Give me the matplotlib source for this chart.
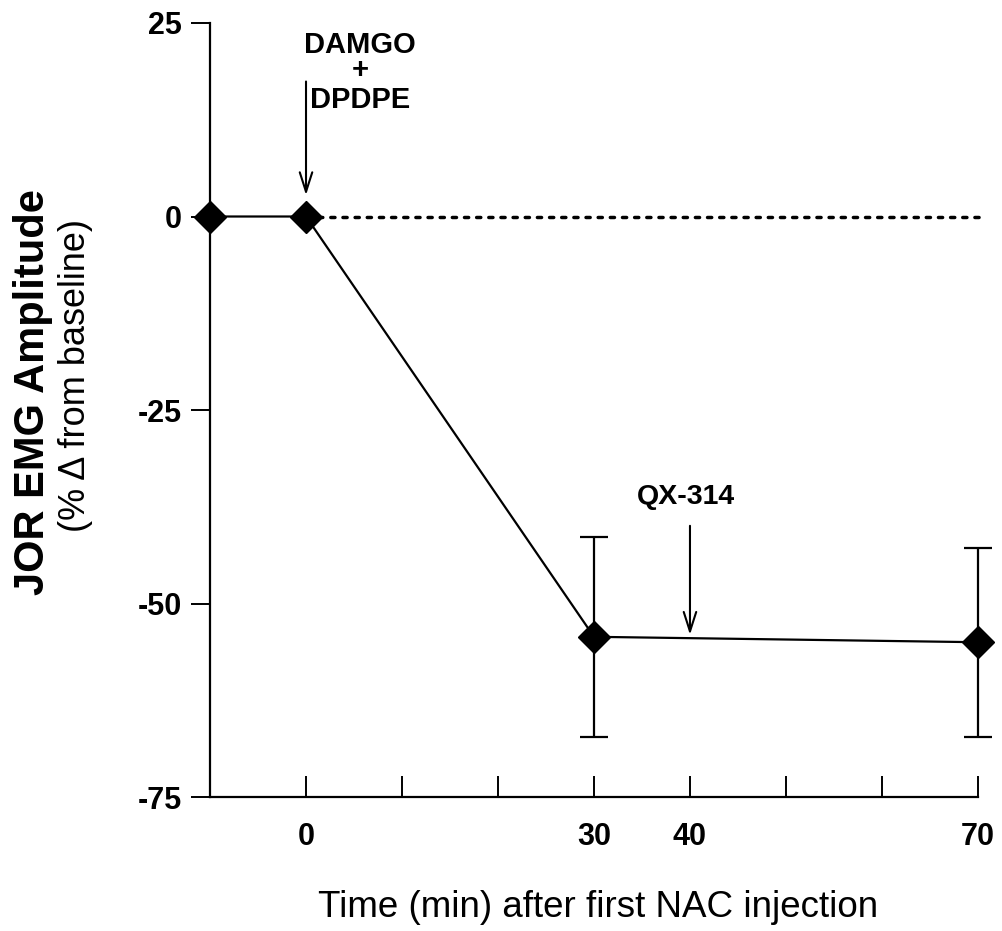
import numpy as np
import matplotlib
matplotlib.use("Agg")
import matplotlib.pyplot as plt

plt.rcParams['font.family'] = ['Liberation Sans', 'DejaVu Sans']

# time (min), mean % change, error
time_min = np.array([-10, 0, 30, 70])
emg_change = np.array([0.0, 0.0, -54.3, -55.0])
emg_err = np.array([0.0, 0.0, 12.9, 12.2])

xtick_pos = [0, 10, 20, 30, 40, 50, 60, 70]
xtick_lab = ["0", "", "", "30", "40", "", "", "70"]
ytick_pos = [25, 0, -25, -50, -75]

fig = plt.figure(figsize=(10.02, 9.31), dpi=100)
ax = fig.add_axes([0.2096, 0.1439, 0.976 - 0.2096, 0.9753 - 0.1439])

# baseline
ax.plot([0, 70.6], [0, 0], color='k', lw=2.5, ls=(0, (1.2, 2.3)),
        dash_capstyle='round', clip_on=False)

ax.plot(time_min, emg_change, color='k', lw=1.6, marker='D', ms=16,
        mfc='k', mec='k', clip_on=False, zorder=3)
has_err = emg_err > 0
ax.errorbar(time_min[has_err], emg_change[has_err], yerr=emg_err[has_err],
            fmt='none', ecolor='k', elinewidth=1.6, capsize=10, capthick=1.6,
            clip_on=False)

# injection arrows
arw = dict(arrowstyle='->,head_length=1.4,head_width=0.45', lw=1.5, color='k')
ax.annotate('', xy=(0, 2.4), xytext=(0, 17.8), arrowprops=arw)
ax.annotate('', xy=(40, -54.4), xytext=(40, -39.6), arrowprops=arw)
ax.text(5.6, 22.2, "DAMGO", ha='center', va='center', fontsize=21, fontweight='bold')
ax.text(5.6, 18.9, "+", ha='center', va='center', fontsize=21, fontweight='bold')
ax.text(5.6, 15.1, "DPDPE", ha='center', va='center', fontsize=21, fontweight='bold')
ax.text(39.6, -36.2, "QX-314", ha='center', va='center', fontsize=20.5, fontweight='bold')

ax.set_xlim(-10, 70)
ax.set_ylim(-75, 25)
ax.set_xticks(xtick_pos)
ax.set_xticklabels(xtick_lab)
ax.set_yticks(ytick_pos)
ax.set_yticklabels([str(v) for v in ytick_pos])
ax.tick_params(axis='x', direction='in', length=15, width=1.4, pad=18,
               labelsize=22)
ax.tick_params(axis='y', direction='out', length=14, width=1.4, pad=6,
               labelsize=22)
for lab in ax.get_xticklabels() + ax.get_yticklabels():
    lab.set_fontweight('bold')

for s in ['top', 'right']:
    ax.spines[s].set_visible(False)
for s in ['left', 'bottom']:
    ax.spines[s].set_linewidth(1.6)

fig.text(0.033, 0.579, "JOR EMG Amplitude", rotation=90, ha='center', va='center',
         fontsize=30, fontweight='bold')
fig.text(0.075, 0.597, "(% \u0394 from baseline)", rotation=90, ha='center', va='center',
         fontsize=26)
fig.text(0.597, 0.025, "Time (min) after first NAC injection", ha='center',
         va='center', fontsize=26.5)

fig.savefig("out.png", dpi=100)
